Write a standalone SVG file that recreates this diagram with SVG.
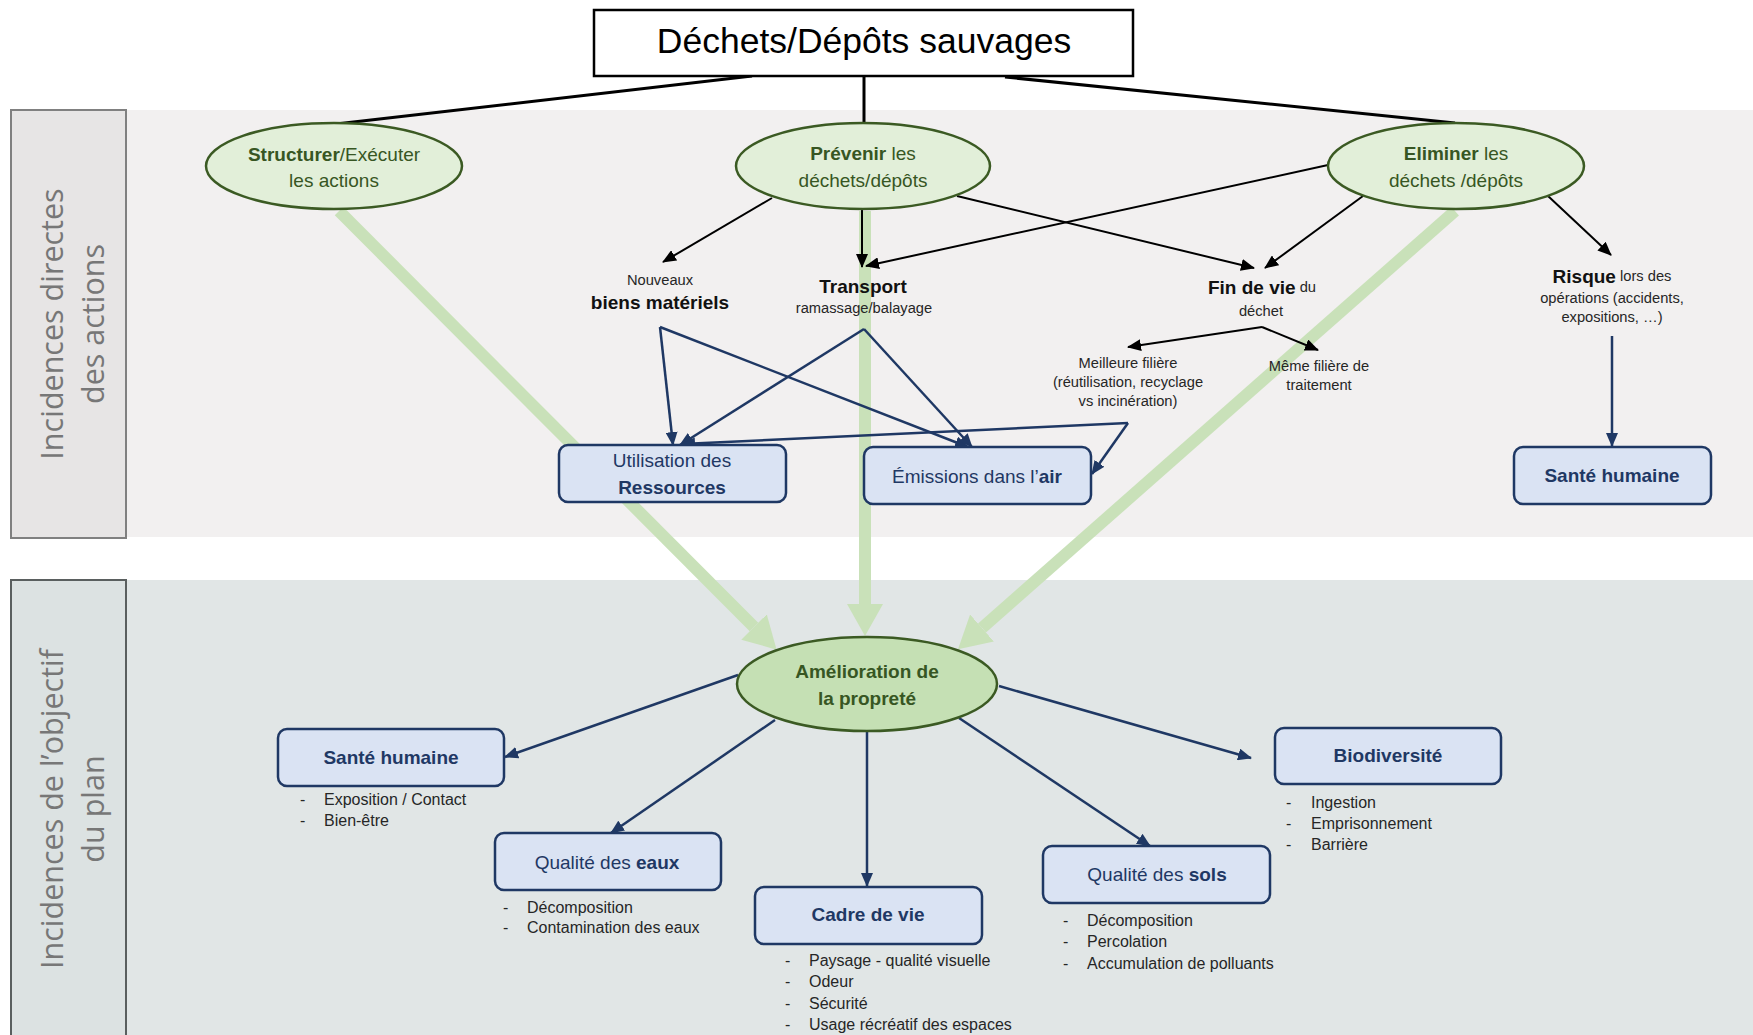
<svg xmlns="http://www.w3.org/2000/svg" width="1753" height="1035" viewBox="0 0 1753 1035">
<defs>
<style>
text{font-family:"Liberation Sans",Arial,sans-serif;}
.lab{font-family:"Open Sans","DejaVu Sans",sans-serif;font-size:30.5px;fill:#777;text-anchor:middle;}
.ell{fill:#e2efd9;stroke:#3b5a23;stroke-width:2.5;}
.ell2{fill:#c5e0b4;stroke:#3b5a23;stroke-width:2.5;}
.et{font-size:19px;fill:#375623;text-anchor:middle;dominant-baseline:central;}
.box{fill:#dae3f3;stroke:#1f3864;stroke-width:2.5;}
.bt{font-size:19px;fill:#1f3864;text-anchor:middle;dominant-baseline:central;}
.b{font-weight:bold;}
.sm{font-size:14.7px;fill:#262626;text-anchor:middle;dominant-baseline:central;}
.md{font-size:19px;font-weight:bold;fill:#111;}
.bl{font-size:16px;fill:#262626;dominant-baseline:central;}
.blk{stroke:#000;stroke-width:2;fill:none;}
.top{stroke:#000;stroke-width:3;fill:none;}
.blu{stroke:#1f3864;stroke-width:2.5;fill:none;}
.grn{stroke:#c9e1b9;stroke-width:12;fill:none;}
</style>
<marker id="ak" markerUnits="userSpaceOnUse" markerWidth="14" markerHeight="12" viewBox="0 0 14 12" refX="13" refY="6" orient="auto"><path d="M0,0 L14,6 L0,12 z" fill="#000"/></marker>
<marker id="ab" markerUnits="userSpaceOnUse" markerWidth="14" markerHeight="12" viewBox="0 0 14 12" refX="13" refY="6" orient="auto"><path d="M0,0 L14,6 L0,12 z" fill="#1f3864"/></marker>
<marker id="ag" markerUnits="userSpaceOnUse" markerWidth="32" markerHeight="36" viewBox="0 -18 32 36" refX="0" refY="0" orient="auto"><path d="M0,-18 L32,0 L0,18 z" fill="#c9e1b9"/></marker>
</defs>

<g id="bands">
<rect x="126" y="110" width="1627" height="427" fill="#f2f0f0"/>
<rect x="126" y="580" width="1627" height="455" fill="#e1e6e6"/>
</g>

<g id="label-top">
<rect x="11" y="110" width="115" height="428" fill="#e7e5e5" stroke="#808080" stroke-width="2"/>
<text class="lab" transform="translate(63,324) rotate(-90)">Incidences directes</text>
<text class="lab" transform="translate(104,324) rotate(-90)">des actions</text>
</g>
<g id="label-bottom">
<rect x="11" y="580" width="115" height="460" fill="#dce2e2" stroke="#5a5f5f" stroke-width="2"/>
<text class="lab" transform="translate(63,809) rotate(-90)">Incidences de l’objectif</text>
<text class="lab" transform="translate(104,809) rotate(-90)">du plan</text>
</g>

<g id="connectors">
<line class="grn" x1="339" y1="211" x2="754" y2="627" marker-end="url(#ag)"/>
<line class="grn" x1="865" y1="211" x2="865" y2="604" marker-end="url(#ag)"/>
<line class="grn" x1="1455" y1="211" x2="982" y2="628" marker-end="url(#ag)"/>

<line class="top" x1="752" y1="76" x2="336" y2="124"/>
<line class="top" x1="864" y1="76" x2="864" y2="123"/>
<line class="top" x1="1005" y1="77" x2="1455" y2="123"/>

<line class="blk" x1="772" y1="198" x2="663" y2="262" marker-end="url(#ak)"/>
<line class="blk" x1="862" y1="209" x2="862" y2="267" marker-end="url(#ak)"/>
<line class="blk" x1="1328" y1="165" x2="866" y2="266" marker-end="url(#ak)"/>
<line class="blk" x1="957" y1="196" x2="1254" y2="268" marker-end="url(#ak)"/>
<line class="blk" x1="1363" y1="196" x2="1265" y2="268" marker-end="url(#ak)"/>
<line class="blk" x1="1548" y1="196" x2="1611" y2="255" marker-end="url(#ak)"/>
<line class="blk" x1="1262" y1="327" x2="1128" y2="347" marker-end="url(#ak)"/>
<line class="blk" x1="1262" y1="327" x2="1318" y2="350" marker-end="url(#ak)"/>

<line class="blu" x1="660" y1="327" x2="673" y2="445" marker-end="url(#ab)"/>
<line class="blu" x1="660" y1="327" x2="968" y2="447" marker-end="url(#ab)"/>
<line class="blu" x1="864" y1="329" x2="680" y2="445" marker-end="url(#ab)"/>
<line class="blu" x1="864" y1="329" x2="972" y2="447" marker-end="url(#ab)"/>
<line class="blu" x1="1128" y1="423" x2="682" y2="444" marker-end="url(#ab)"/>
<line class="blu" x1="1128" y1="423" x2="1092" y2="474" marker-end="url(#ab)"/>
<line class="blu" x1="1612" y1="336" x2="1612" y2="446" marker-end="url(#ab)"/>

<line class="blu" x1="738" y1="675" x2="505" y2="757" marker-end="url(#ab)"/>
<line class="blu" x1="775" y1="720" x2="611" y2="833" marker-end="url(#ab)"/>
<line class="blu" x1="867" y1="732" x2="867" y2="886" marker-end="url(#ab)"/>
<line class="blu" x1="959" y1="718" x2="1150" y2="846" marker-end="url(#ab)"/>
<line class="blu" x1="999" y1="686" x2="1251" y2="758" marker-end="url(#ab)"/>
</g>

<g id="title">
<rect x="594" y="10" width="539" height="66" fill="#fff" stroke="#000" stroke-width="2.5"/>
<text x="864" y="41" font-size="35.5" text-anchor="middle" dominant-baseline="central" fill="#000">Déchets/Dépôts sauvages</text>
</g>

<g id="structurer">
<ellipse class="ell" cx="334" cy="166" rx="128" ry="43"/>
<text class="et" x="334" y="154"><tspan class="b">Structurer</tspan>/Exécuter</text>
<text class="et" x="334" y="180">les actions</text>
</g>
<g id="prevenir">
<ellipse class="ell" cx="863" cy="166" rx="127" ry="43"/>
<text class="et" x="863" y="153"><tspan class="b">Prévenir</tspan> les</text>
<text class="et" x="863" y="180">déchets/dépôts</text>
</g>
<g id="eliminer">
<ellipse class="ell" cx="1456" cy="166" rx="128" ry="43"/>
<text class="et" x="1456" y="153"><tspan class="b">Eliminer</tspan> les</text>
<text class="et" x="1456" y="180">déchets /dépôts</text>
</g>

<g id="biens">
<text class="sm" x="660" y="280">Nouveaux</text>
<text class="sm md" x="660" y="302">biens matériels</text>
</g>
<g id="transport">
<text class="sm md" x="863" y="286">Transport</text>
<text class="sm" x="864" y="308">ramassage/balayage</text>
</g>
<g id="findevie">
<text class="sm" x="1262" y="287"><tspan class="md">Fin de vie</tspan> du</text>
<text class="sm" x="1261" y="311">déchet</text>
</g>
<g id="risque">
<text class="sm" x="1612" y="276"><tspan class="md">Risque</tspan> lors des</text>
<text class="sm" x="1612" y="298">opérations (accidents,</text>
<text class="sm" x="1612" y="317">expositions, …)</text>
</g>
<g id="meilleure">
<text class="sm" x="1128" y="363">Meilleure filière</text>
<text class="sm" x="1128" y="382">(réutilisation, recyclage</text>
<text class="sm" x="1128" y="401">vs incinération)</text>
</g>
<g id="meme">
<text class="sm" x="1319" y="366">Même filière de</text>
<text class="sm" x="1319" y="385">traitement</text>
</g>

<g id="utilisation">
<rect class="box" x="559" y="445" width="227" height="57" rx="9"/>
<text class="bt" x="672" y="460">Utilisation des</text>
<text class="bt b" x="672" y="487">Ressources</text>
</g>
<g id="emissions">
<rect class="box" x="864" y="447" width="227" height="57" rx="9"/>
<text class="bt" x="977" y="476">Émissions dans l’<tspan class="b">air</tspan></text>
</g>
<g id="sante-top">
<rect class="box" x="1514" y="447" width="197" height="57" rx="9"/>
<text class="bt b" x="1612" y="475">Santé humaine</text>
</g>

<g id="amelioration">
<ellipse class="ell2" cx="867" cy="684" rx="130" ry="47"/>
<text class="et b" x="867" y="671">Amélioration de</text>
<text class="et b" x="867" y="698">la propreté</text>
</g>

<g id="sante">
<rect class="box" x="278" y="729" width="226" height="57" rx="9"/>
<text class="bt b" x="391" y="757">Santé humaine</text>
<text class="bl" x="300" y="799">-</text><text class="bl" x="324" y="799">Exposition / Contact</text>
<text class="bl" x="300" y="820">-</text><text class="bl" x="324" y="820">Bien-être</text>
</g>
<g id="eaux">
<rect class="box" x="495" y="833" width="226" height="57" rx="9"/>
<text class="bt" x="607" y="862">Qualité des <tspan class="b">eaux</tspan></text>
<text class="bl" x="503" y="907">-</text><text class="bl" x="527" y="907">Décomposition</text>
<text class="bl" x="503" y="927">-</text><text class="bl" x="527" y="927">Contamination des eaux</text>
</g>
<g id="cadre">
<rect class="box" x="755" y="887" width="227" height="57" rx="9"/>
<text class="bt b" x="868" y="914">Cadre de vie</text>
<text class="bl" x="785" y="960">-</text><text class="bl" x="809" y="960">Paysage - qualité visuelle</text>
<text class="bl" x="785" y="981">-</text><text class="bl" x="809" y="981">Odeur</text>
<text class="bl" x="785" y="1003">-</text><text class="bl" x="809" y="1003">Sécurité</text>
<text class="bl" x="785" y="1024">-</text><text class="bl" x="809" y="1024">Usage récréatif des espaces</text>
</g>
<g id="sols">
<rect class="box" x="1043" y="846" width="227" height="57" rx="9"/>
<text class="bt" x="1157" y="874">Qualité des <tspan class="b">sols</tspan></text>
<text class="bl" x="1063" y="920">-</text><text class="bl" x="1087" y="920">Décomposition</text>
<text class="bl" x="1063" y="941">-</text><text class="bl" x="1087" y="941">Percolation</text>
<text class="bl" x="1063" y="963">-</text><text class="bl" x="1087" y="963">Accumulation de polluants</text>
</g>
<g id="biodiversite">
<rect class="box" x="1275" y="728" width="226" height="56" rx="9"/>
<text class="bt b" x="1388" y="755">Biodiversité</text>
<text class="bl" x="1286" y="802">-</text><text class="bl" x="1311" y="802">Ingestion</text>
<text class="bl" x="1286" y="823">-</text><text class="bl" x="1311" y="823">Emprisonnement</text>
<text class="bl" x="1286" y="844">-</text><text class="bl" x="1311" y="844">Barrière</text>
</g>
</svg>
